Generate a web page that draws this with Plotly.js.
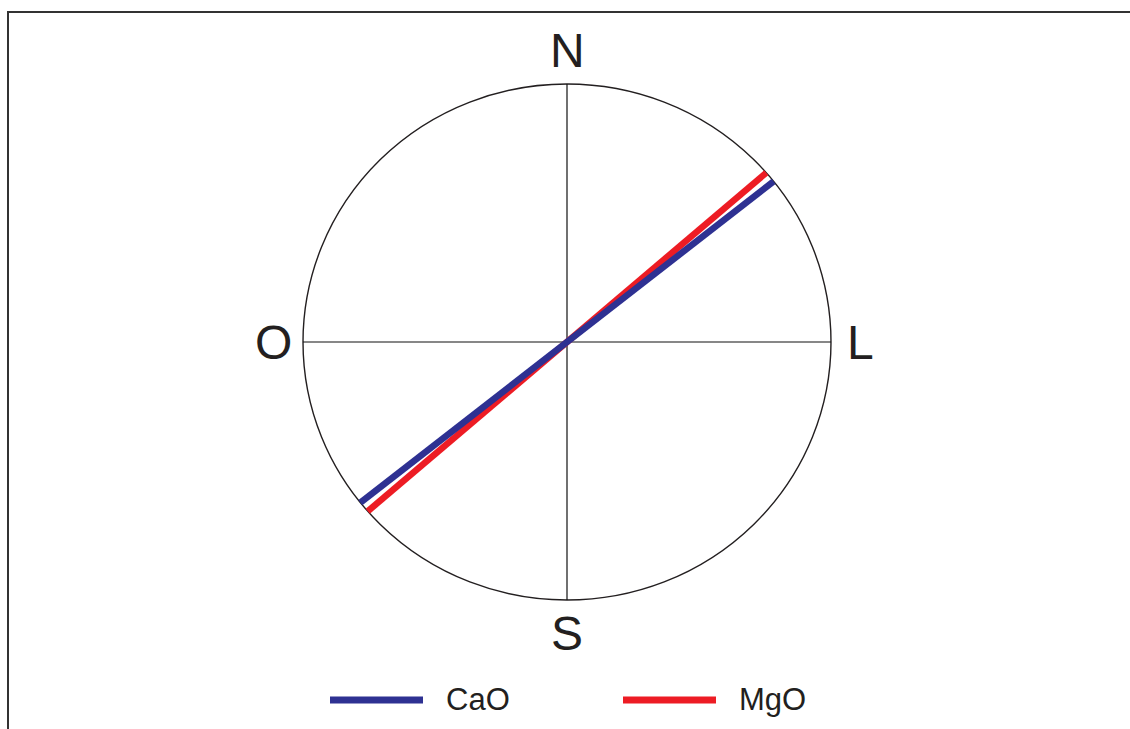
<!DOCTYPE html>
<html>
<head>
<meta charset="utf-8">
<script src="https://cdn.plot.ly/plotly-3.0.1.min.js"></script>
<style>html,body{margin:0;padding:0;background:#fff;}#chart{width:1130px;height:729px;}</style>
</head>
<body>
<div id="chart"></div>
<script>
// Data: direction (azimuth, degrees clockwise from North) of each oxide trend
const seriesNames = ["MgO", "CaO"];
const azimuths = [49.0, 51.5];
const seriesColors = ["#ed1c24", "#2e3192"];
// Compass labels
const compassLabels = ["N", "L", "S", "O"];
const compassAngles = [0, 90, 180, 270];

const W = 1130, H = 729;
const cx = 567, cy = 342, rx = 264, ry = 258;

const traces = seriesNames.map((name, i) => {
  const t = azimuths[i] * Math.PI / 180;
  return {
    type: "scatter", mode: "lines", name: name,
    x: [-Math.sin(t), Math.sin(t)],
    y: [-Math.cos(t), Math.cos(t)],
    line: {color: seriesColors[i], width: 6.5},
    hoverinfo: "skip", showlegend: false
  };
});

const labelOffset = 1.13;
const labelOffsetX = 1.11;
const annotations = compassLabels.map((lab, i) => {
  const t = compassAngles[i] * Math.PI / 180;
  return {
    x: Math.sin(t) * labelOffsetX * (Math.abs(Math.sin(t)) > 0.5 ? 1 : 0),
    y: Math.cos(t) * labelOffset * (Math.abs(Math.cos(t)) > 0.5 ? 1 : 0),
    text: lab, showarrow: false, xanchor: "center", yanchor: "middle",
    font: {family: "Liberation Sans, Arial, sans-serif", size: 48, color: "#231f20"}
  };
});

// custom legend
const legendOrder = ["CaO", "MgO"];
const legendX = [330, 623];
const legendY = 700;
const shapes = [
  {type: "rect", xref: "paper", yref: "paper", x0: 8 / W, x1: 1.02, y0: -0.02, y1: 1 - 12 / H,
   line: {color: "#333333", width: 2}, fillcolor: "rgba(0,0,0,0)"},
  {type: "circle", xref: "x", yref: "y", x0: -1, x1: 1, y0: -1, y1: 1,
   line: {color: "#231f20", width: 1.4}, layer: "below"},
  {type: "line", xref: "x", yref: "y", x0: -1, x1: 1, y0: 0, y1: 0,
   line: {color: "#111111", width: 1.2}, layer: "below"},
  {type: "line", xref: "x", yref: "y", x0: 0, x1: 0, y0: -1, y1: 1,
   line: {color: "#111111", width: 1.2}, layer: "below"}
];
legendOrder.forEach((name, k) => {
  const i = seriesNames.indexOf(name);
  shapes.push({type: "line", xref: "paper", yref: "paper",
    x0: legendX[k] / W, x1: (legendX[k] + 93) / W,
    y0: 1 - legendY / H, y1: 1 - legendY / H,
    line: {color: seriesColors[i], width: 7}});
  annotations.push({xref: "paper", yref: "paper", x: (legendX[k] + 114) / W, y: 1 - (legendY - 1) / H,
    text: name, showarrow: false, xanchor: "left", yanchor: "middle",
    font: {family: "Liberation Sans, Arial, sans-serif", size: 31, color: "#231f20"}});
});

const layout = {
  width: W, height: H,
  margin: {l: 0, r: 0, t: 0, b: 0},
  paper_bgcolor: "#ffffff", plot_bgcolor: "#ffffff",
  xaxis: {range: [-cx / rx, (W - cx) / rx], visible: false, fixedrange: true},
  yaxis: {range: [-(H - cy) / ry, cy / ry], visible: false, fixedrange: true},
  shapes: shapes, annotations: annotations, showlegend: false
};

Plotly.newPlot("chart", traces, layout, {displayModeBar: false, staticPlot: true});
</script>
</body>
</html>
